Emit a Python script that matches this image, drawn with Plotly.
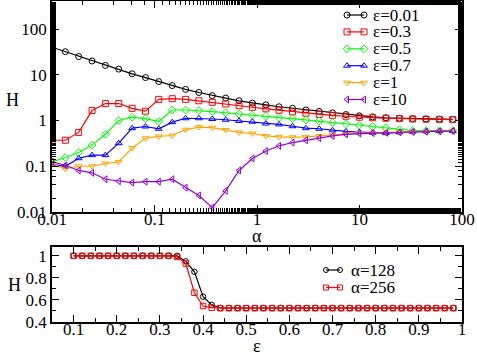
import plotly.graph_objects as go

# canvas / plot-area geometry (pixels)
W, H = 477, 355
ML, MR, MT, MB = 52, 15, 1, 33
PW, PH = W - ML - MR, H - MT - MB

FONT = '"Liberation Serif", "Times New Roman", Times, serif'

# ---- top panel data: H vs alpha for several epsilon ----
ALPHA = [0.01, 0.0135, 0.0182, 0.0246, 0.0332, 0.0448, 0.0605, 0.0817, 0.110, 0.149,
         0.201, 0.271, 0.366, 0.495, 0.668, 0.902, 1.22, 1.64, 2.22, 3.00,
         4.04, 5.46, 7.37, 9.95, 13.4, 18.1, 24.5, 33.0, 44.6, 60.2, 81.3]

H_EPS_001 = [40, 32, 25, 20, 16, 13.3, 10.5, 8.7, 7.1, 5.8, 4.8, 4.1, 3.5, 3.1, 2.7,
             2.4, 2.2, 2.0, 1.85, 1.7, 1.58, 1.47, 1.35, 1.27, 1.2, 1.15, 1.12, 1.1,
             1.08, 1.07, 1.06]
H_EPS_03 = [0.37, 0.37, 0.55, 1.65, 2.35, 2.35, 1.85, 1.6, 2.9, 3.0, 2.9, 2.7, 2.5, 2.3,
            2.1, 1.95, 1.8, 1.68, 1.55, 1.45, 1.36, 1.3, 1.24, 1.18, 1.15, 1.12, 1.1,
            1.08, 1.07, 1.06, 1.05]
H_EPS_05 = [0.125, 0.155, 0.2, 0.29, 0.5, 1.0, 1.18, 1.1, 0.95, 1.7, 1.7, 1.65, 1.56,
            1.48, 1.38, 1.32, 1.24, 1.16, 1.1, 1.02, 0.97, 0.9, 0.85, 0.79, 0.74, 0.69,
            0.63, 0.6, 0.6, 0.6, 0.6]
H_EPS_07 = [0.11, 0.10, 0.15, 0.175, 0.175, 0.32, 0.68, 0.74, 0.66, 0.92, 1.12, 1.12,
            1.08, 1.04, 0.98, 0.94, 0.86, 0.82, 0.75, 0.68, 0.66, 0.61, 0.58, 0.56,
            0.54, 0.53, 0.55, 0.57, 0.58, 0.59, 0.59]
H_EPS_1 = [0.115, 0.088, 0.1, 0.1, 0.115, 0.125, 0.25, 0.41, 0.45, 0.47, 0.63, 0.72,
           0.70, 0.62, 0.55, 0.52, 0.46, 0.44, 0.43, 0.44, 0.46, 0.49, 0.51, 0.53, 0.54,
           0.55, 0.56, 0.57, 0.57, 0.58, 0.59]
H_EPS_10 = [0.125, 0.105, 0.081, 0.072, 0.052, 0.047, 0.044, 0.046, 0.046, 0.052, 0.034,
            0.023, 0.0125, 0.029, 0.081, 0.148, 0.215, 0.28, 0.33, 0.37, 0.41, 0.46, 0.5,
            0.52, 0.53, 0.54, 0.55, 0.56, 0.57, 0.58, 0.59]

TOP_SERIES = [
    ("ε=0.01", H_EPS_001, "black", "circle-open"),
    ("ε=0.3", H_EPS_03, "#ff0000", "square-open"),
    ("ε=0.5", H_EPS_05, "#00ff00", "diamond-open"),
    ("ε=0.7", H_EPS_07, "#0000ff", "triangle-up-open"),
    ("ε=1", H_EPS_1, "#ffa500", "triangle-down-open"),
    ("ε=10", H_EPS_10, "#9400d3", "triangle-left-open"),
]

# ---- bottom panel data: H vs epsilon for two alpha ----
EPS = [0.10, 0.12, 0.14, 0.16, 0.18, 0.20, 0.22, 0.24, 0.26, 0.28, 0.30, 0.32, 0.34,
       0.36, 0.38, 0.40, 0.42, 0.44, 0.46, 0.48, 0.50, 0.52, 0.54, 0.56, 0.58, 0.60,
       0.62, 0.64, 0.66, 0.68, 0.70, 0.72, 0.74, 0.76, 0.78, 0.80, 0.82, 0.84, 0.86,
       0.88, 0.90, 0.92, 0.94, 0.96, 0.98]
H_ALPHA_128 = [1.0] * 13 + [0.95, 0.855, 0.63, 0.555] + [0.527] * 28
H_ALPHA_256 = [1.0] * 12 + [0.99, 0.93, 0.665, 0.545, 0.53] + [0.525] * 28

BOTTOM_SERIES = [
    ("α=128", H_ALPHA_128, "black", "circle-open"),
    ("α=256", H_ALPHA_256, "#ff0000", "square-open"),
]


def to_paper(x, y):
    """pixel position -> paper coords of the plot area"""
    return (x - ML) / PW, (H - MB - y) / PH


TOP_DOM = [to_paper(0, 212)[1], 1.0]
BOT_DOM = [0.0, to_paper(0, 247)[1]]

fig = go.Figure()

for name, ys, col, sym in TOP_SERIES:
    fig.add_trace(go.Scatter(
        x=ALPHA, y=ys, mode="lines+markers", name=name, showlegend=False,
        line=dict(color=col, width=1.2),
        marker=dict(symbol=sym, size=6, color=col, line=dict(width=1, color=col)),
        xaxis="x", yaxis="y"))

for name, ys, col, sym in BOTTOM_SERIES:
    fig.add_trace(go.Scatter(
        x=EPS, y=ys, mode="lines+markers", name=name, showlegend=False,
        line=dict(color=col, width=1.2),
        marker=dict(symbol=sym, size=5.5, color=col, line=dict(width=1, color=col)),
        xaxis="x2", yaxis="y2"))

# hand-made legends (xmgrace style: marker at both ends of the sample line)
annot = []


def legend_entry(i, name, col, sym, x0, x1, xt, ytop, step, msize):
    yp = ytop + i * step
    (ax, ay), (bx, _) = to_paper(x0, yp), to_paper(x1, yp)
    fig.add_trace(go.Scatter(
        x=[ax, bx], y=[ay, ay], mode="lines+markers", showlegend=False, hoverinfo="skip",
        line=dict(color=col, width=1.2),
        marker=dict(symbol=sym, size=msize, color=col, line=dict(width=1, color=col)),
        xaxis="x3", yaxis="y3"))
    tx, ty = to_paper(xt, yp)
    annot.append(dict(text=name, x=tx, y=ty, xref="paper", yref="paper", showarrow=False,
                      xanchor="left", yanchor="middle", height=15,
                      font=dict(family=FONT, size=17, color="black")))


for i, (name, ys, col, sym) in enumerate(TOP_SERIES):
    legend_entry(i, name, col, sym, 347, 364, 371, 15, 16.9, 6)
for i, (name, ys, col, sym) in enumerate(BOTTOM_SERIES):
    legend_entry(i, name, col, sym, 326, 340, 349, 270, 17.5, 5)

# axis titles
for txt, (px_, py_) in [("α", (257, 236)), ("ε", (257, 346)), ("H", (12, 100)), ("H", (14, 285))]:
    ax, ay = to_paper(px_, py_)
    annot.append(dict(text=txt, x=ax, y=ay, xref="paper", yref="paper", showarrow=False,
                      xanchor="center", yanchor="middle", height=14,
                      font=dict(family=FONT, size=18, color="black")))

tickfont = dict(family=FONT, size=17, color="black")
common = dict(showline=True, linecolor="black", linewidth=1.5, mirror="ticks",
              ticks="inside", ticklen=7, tickwidth=1, tickcolor="black",
              showgrid=False, zeroline=False, tickfont=tickfont, automargin=False)

fig.update_layout(
    width=W, height=H,
    margin=dict(l=ML, r=MR, t=MT, b=MB, pad=0),
    paper_bgcolor="white", plot_bgcolor="rgba(0,0,0,0)",
    font=dict(family=FONT),
    showlegend=False,
    xaxis=dict(type="log", range=[-2, 2], domain=[0, 1], anchor="y",
               tickvals=[0.01, 0.1, 1, 10, 100], ticktext=["0.01", "0.1", "1", "10", "100"],
               ticklabelstandoff=-9,
               minor=dict(ticks="inside", ticklen=4, tickcolor="black", showgrid=False),
               **common),
    yaxis=dict(type="log", range=[-2, 2.613], domain=TOP_DOM, anchor="x",
               tickvals=[0.01, 0.1, 1, 10, 100], ticktext=["0.01", "0.1", "1", "10", "100"],
               minor=dict(ticks="inside", ticklen=4, tickcolor="black", showgrid=False),
               **common),
    xaxis2=dict(range=[0.05, 1], domain=[0, 1], anchor="y2", tick0=0.1, dtick=0.1,
                ticklabelstandoff=-9,
                minor=dict(ticks="inside", ticklen=4, tickcolor="black", dtick=0.05, showgrid=False),
                **common),
    yaxis2=dict(range=[0.4, 1.08], domain=BOT_DOM, anchor="x2", tick0=0.4, dtick=0.2,
                minor=dict(ticks="inside", ticklen=4, tickcolor="black", dtick=0.1, showgrid=False),
                **common),
    xaxis3=dict(range=[0, 1], domain=[0, 1], anchor="y3", visible=False, fixedrange=True),
    yaxis3=dict(range=[0, 1], domain=[0, 1], anchor="x3", visible=False, fixedrange=True),
    annotations=annot,
)

# the page body has a default 8px margin; drop it so the figure sits at the corner
fig.write_html("out.html", config={"displayModeBar": False},
               post_script="document.body.style.margin='0';")
